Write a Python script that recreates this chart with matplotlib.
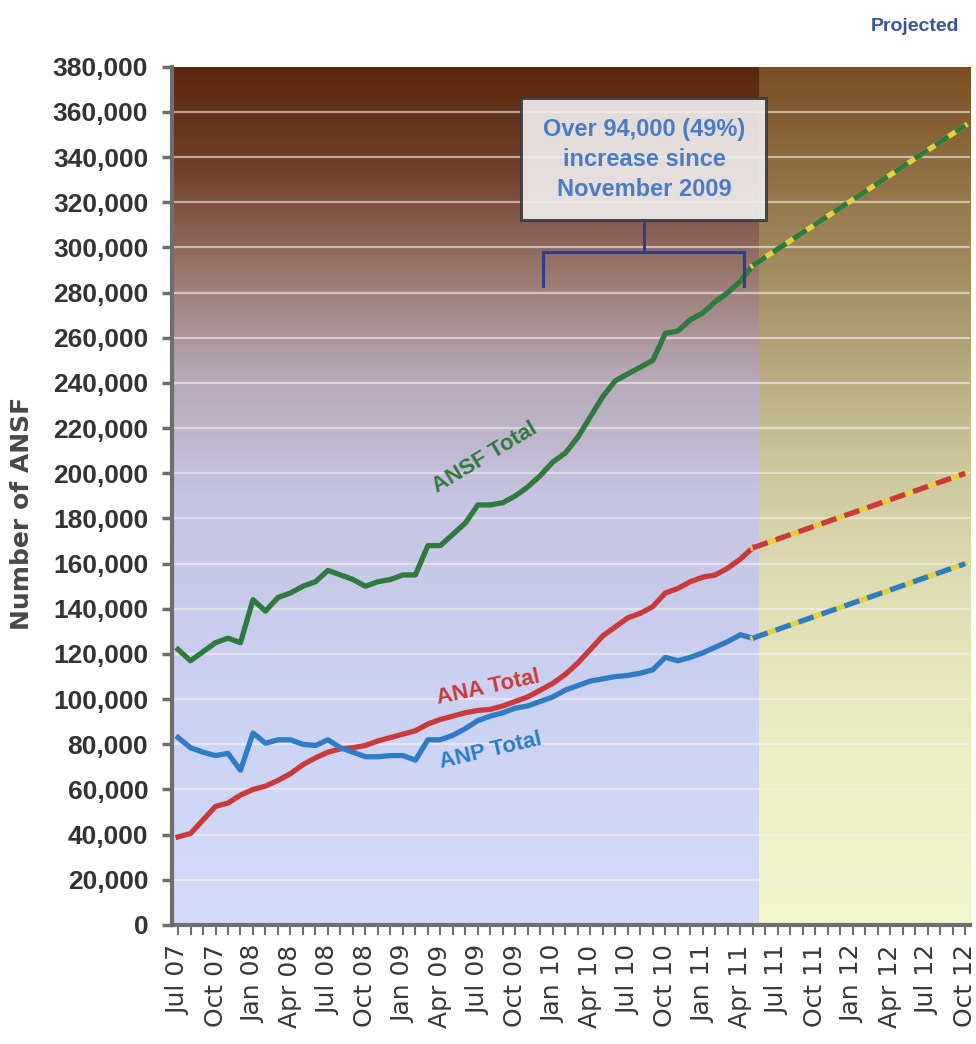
import numpy as np
import matplotlib.pyplot as plt
from matplotlib.colors import LinearSegmentedColormap
from matplotlib.patches import Rectangle
from matplotlib.ticker import FuncFormatter, MultipleLocator

# tick labels, one every third month (Jul 07 .. Oct 12)
quarter_labels = ["Jul 07", "Oct 07", "Jan 08", "Apr 08", "Jul 08", "Oct 08",
                  "Jan 09", "Apr 09", "Jul 09", "Oct 09", "Jan 10", "Apr 10",
                  "Jul 10", "Oct 10", "Jan 11", "Apr 11", "Jul 11", "Oct 11",
                  "Jan 12", "Apr 12", "Jul 12", "Oct 12"]

# monthly actuals Jul 07 .. May 11 (thousands)
ansf_total = [122, 117, 121, 125, 127, 125, 144, 139, 145, 147, 150, 152,
              157, 155, 153, 150, 152, 153, 155, 155, 168, 168, 173, 178,
              186, 186, 187, 190, 194, 199, 205, 209, 216, 225, 234, 241,
              244, 247, 250, 262, 263, 268, 271, 276, 280, 285, 292]
ana_total = [39, 40.5, 46.5, 52.5, 54, 57.5, 60, 61.5, 64, 67, 71, 74,
             76.5, 78, 78.5, 79.5, 81.5, 83, 84.5, 86, 89, 91, 92.5, 94,
             95, 95.5, 97, 99, 101, 104, 107, 111, 116, 122, 128, 132,
             136, 138, 141, 147, 149, 152, 154, 155, 158, 162, 167]
anp_total = [83, 78.5, 76.5, 75, 76, 68.5, 85, 80.5, 82, 82, 80, 79.5,
             82, 78.5, 76.5, 74.5, 74.5, 75, 75, 73, 82, 82, 84, 87,
             90.5, 92.5, 94, 96, 97, 99, 101, 104, 106, 108, 109, 110,
             110.5, 111.5, 113, 118.5, 117, 118.5, 120.5, 123, 125.5, 128.5, 127]

# projection May 11 -> Oct 12 (thousands)
proj_months = [46, 63]
ansf_proj = [292, 354]
ana_proj = [167, 200]
anp_proj = [127, 160]

months = np.arange(len(ansf_total))
split = 46.5

GREEN = "#2f7a3f"
RED = "#c83a3c"
BLUE = "#2f7cc4"
YELLOW = "#e4d040"
SANS = ["Liberation Sans", "DejaVu Sans"]

fig = plt.figure(figsize=(9.76, 10.44), dpi=100)
ax = fig.add_axes([0.176, 0.114, 0.818, 0.822])

xmin, xmax = -0.5, 63.4
ymax = 380000

# background gradients (top -> bottom)
hist_cmap = LinearSegmentedColormap.from_list("hist", [
    (0.0, "#5a260e"), (0.12, "#72402a"), (0.25, "#9c7c74"),
    (0.36, "#b8a8b8"), (0.5, "#c6c4e2"), (0.75, "#ccd2f2"), (1.0, "#d4dcf8")])
proj_cmap = LinearSegmentedColormap.from_list("proj", [
    (0.0, "#7a4e22"), (0.15, "#94784a"), (0.3, "#ac9c70"),
    (0.45, "#cac498"), (0.6, "#dedcb4"), (0.8, "#eceec4"), (1.0, "#f2f6cc")])
grad = np.linspace(0, 1, 256).reshape(-1, 1)
ax.imshow(grad, cmap=hist_cmap, aspect="auto", extent=[xmin, split, 0, ymax],
          origin="upper", zorder=0)
ax.imshow(grad, cmap=proj_cmap, aspect="auto", extent=[split, xmax, 0, ymax],
          origin="upper", zorder=0)

# gridlines
for yv in range(20000, ymax, 20000):
    ax.axhline(yv, color="#f6f0ee", lw=1.6, alpha=0.6, zorder=1)

# actual lines
ax.plot(months, np.array(ansf_total) * 1000, color=GREEN, lw=3.8, zorder=3)
ax.plot(months, np.array(ana_total) * 1000, color=RED, lw=3.8, zorder=3)
ax.plot(months, np.array(anp_total) * 1000, color=BLUE, lw=3.8, zorder=3)

# projected lines: yellow under, coloured dashes on top
for vals, col in [(ansf_proj, GREEN), (ana_proj, RED), (anp_proj, BLUE)]:
    yv = np.array(vals) * 1000
    ax.plot(proj_months, yv, color=YELLOW, lw=3.8, zorder=3)
    ax.plot(proj_months, yv, color=col, lw=3.8, dashes=(3, 1.6), zorder=4)

ax.set_xlim(xmin, xmax)
ax.set_ylim(0, ymax)

# axes styling
for s in ["top", "right"]:
    ax.spines[s].set_visible(False)
for s in ["left", "bottom"]:
    ax.spines[s].set_color("#6e6e6e")
    ax.spines[s].set_linewidth(3)
    ax.spines[s].set_zorder(5)

ax.yaxis.set_major_locator(MultipleLocator(20000))
ax.yaxis.set_major_formatter(FuncFormatter(lambda v, p: f"{int(v):,}"))
ax.tick_params(axis="y", length=7, width=2.5, color="#6e6e6e", pad=10,
               labelsize=19, labelcolor="#333333")
for lab in ax.get_yticklabels():
    lab.set_family(SANS)
    lab.set_fontweight("bold")

ax.set_xticks(np.arange(0, 64, 3))
ax.set_xticklabels(quarter_labels, rotation=90, fontsize=18, color="#383838",
                   family="DejaVu Sans")
ax.set_xticks(np.arange(0, 64, 1), minor=True)
ax.tick_params(axis="x", which="both", length=7, width=1.5, color="#6e6e6e", pad=7)

ax.set_ylabel("Number of ANSF", fontsize=18, fontweight="bold", color="#484848",
              family="DejaVu Sans")
ax.yaxis.set_label_coords(-0.172, 0.48)

# series labels
ax.text(24.6, 207000, "ANSF Total", color=GREEN, rotation=31, fontsize=16,
        fontweight="bold", ha="center", va="center", family=SANS, zorder=6)
ax.text(24.8, 105000, "ANA Total", color=RED, rotation=12, fontsize=16,
        fontweight="bold", ha="center", va="center", family=SANS, zorder=6)
ax.text(25.0, 77000, "ANP Total", color=BLUE, rotation=13, fontsize=16,
        fontweight="bold", ha="center", va="center", family=SANS, zorder=6)

# callout box and bracket
ax.add_patch(Rectangle((27.45, 312000), 19.65, 54000, facecolor="#f2f0f0",
                       alpha=0.9, edgecolor="#3a3a3a", linewidth=2.2, zorder=6))
ax.text(37.3, 339000, "Over 94,000 (49%)\nincrease since\nNovember 2009",
        color="#4a7cc6", fontsize=17, fontweight="bold", ha="center", va="center",
        linespacing=1.4, family=SANS, zorder=7)
bc = "#2b3f8f"
ax.plot([29.2, 29.2, 45.3, 45.3], [283000, 298000, 298000, 283000], color=bc, lw=2.2, zorder=6)
ax.plot([37.3, 37.3], [298000, 312000], color=bc, lw=2.2, zorder=6)

fig.text(0.937, 0.975, "Projected", color="#3a5590", fontsize=14, fontweight="bold",
         ha="center", va="center", family=SANS)

fig.savefig("out.png", dpi=100, facecolor="white")
